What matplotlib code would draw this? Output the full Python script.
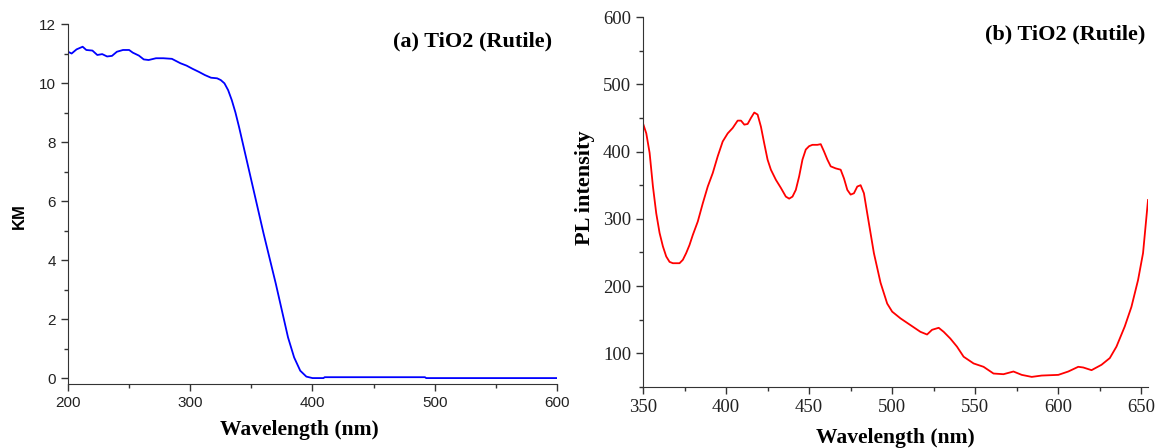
import numpy as np
import matplotlib
matplotlib.use("Agg")
import matplotlib.pyplot as plt
from matplotlib.ticker import MultipleLocator

# (a) Kubelka-Munk spectrum, TiO2 rutile
km_wl = [200, 203, 207, 212, 215, 220, 224, 228, 232, 236, 240, 245, 250, 253,
         258, 262, 266, 272, 278, 285, 292, 297, 302, 307, 312, 317, 322, 325,
         328, 331, 334, 337, 340, 345, 350, 355, 360, 365, 370, 375, 380, 385,
         390, 395, 400, 409, 410, 450, 492, 493, 550, 600]
km_val = [11.06, 11.0, 11.14, 11.23, 11.12, 11.1, 10.95, 10.98, 10.9, 10.92,
          11.06, 11.12, 11.12, 11.03, 10.93, 10.8, 10.78, 10.84, 10.84, 10.82,
          10.67, 10.59, 10.48, 10.38, 10.27, 10.18, 10.16, 10.1, 9.99, 9.76,
          9.42, 9.0, 8.5, 7.6, 6.7, 5.8, 4.9, 4.05, 3.2, 2.29, 1.38, 0.7,
          0.25, 0.05, 0.0, 0.0, 0.03, 0.03, 0.03, 0.0, 0.0, 0.0]

# (b) photoluminescence spectrum
pl_wl = [350, 352, 354, 356, 358, 360, 362, 364, 366, 368, 370, 372, 374, 376,
         378, 380, 383, 386, 389, 392, 395, 398, 401, 404, 407, 409, 411, 413,
         415, 417, 419, 421, 423, 425, 427, 430, 433, 436, 438, 440, 442, 444,
         446, 448, 450, 452, 455, 457, 459, 461, 463, 466, 469, 471, 473, 475,
         477, 479, 481, 483, 485, 489, 493, 497, 500, 505, 511, 517, 521, 524,
         528, 531, 535, 539, 543, 549, 555, 561, 567, 573, 578, 584, 590, 600,
         606, 612, 615, 620, 626, 631, 635, 640, 644, 648, 651, 654]
pl_val = [442, 427, 398, 348, 308, 279, 259, 244, 236, 234, 234, 234, 239, 249,
          261, 276, 296, 323, 348, 368, 393, 415, 427, 435, 446, 446, 440, 441,
          450, 458, 455, 437, 412, 388, 373, 358, 346, 333, 330, 333, 343, 363,
          388, 403, 408, 410, 410, 411, 400, 388, 378, 375, 373, 360, 343, 336,
          338, 348, 350, 338, 308, 249, 205, 174, 162, 152, 142, 132, 128, 135,
          138, 132, 122, 110, 95, 85, 80, 70, 69, 73, 68, 65, 67, 68,
          73, 80, 79, 75, 83, 93, 110, 140, 169, 209, 249, 328]

serif = "Liberation Serif"
sans = "Liberation Sans"

fig = plt.figure(figsize=(11.56, 4.48), dpi=100)

# ---- panel (a)
ax1 = fig.add_axes([0.0588, 0.1429, 0.4230, 0.8035])
ax1.plot(km_wl, km_val, color="#0000ff", lw=1.3)
ax1.set_xlim(200, 600)
ax1.set_ylim(-0.2, 12)
ax1.xaxis.set_major_locator(MultipleLocator(100))
ax1.xaxis.set_minor_locator(MultipleLocator(50))
ax1.yaxis.set_major_locator(MultipleLocator(2))
ax1.yaxis.set_minor_locator(MultipleLocator(1))
for lab in ax1.get_xticklabels() + ax1.get_yticklabels():
    lab.set_fontfamily(sans)
    lab.set_fontsize(11)
    lab.set_color("#222222")
ax1.set_xlabel("Wavelength (nm)", family=serif, fontweight="bold", fontsize=15.5)
ax1.xaxis.set_label_coords(0.474, -0.101)
ax1.set_ylabel("KM", family=sans, fontweight="bold", fontsize=12)
ax1.yaxis.set_label_coords(-0.084, 0.467)
ax1.text(0.99, 0.98, "(a) TiO2 (Rutile)", transform=ax1.transAxes, ha="right", va="top",
         family=serif, fontweight="bold", fontsize=16)

# ---- panel (b)
ax2 = fig.add_axes([0.5562, 0.1362, 0.4369, 0.8258])
ax2.plot(pl_wl, pl_val, color="#ff0000", lw=1.3)
ax2.set_xlim(350, 654)
ax2.set_ylim(50, 600)
ax2.xaxis.set_major_locator(MultipleLocator(50))
ax2.xaxis.set_minor_locator(MultipleLocator(25))
ax2.yaxis.set_major_locator(MultipleLocator(100))
ax2.yaxis.set_minor_locator(MultipleLocator(50))
for lab in ax2.get_xticklabels() + ax2.get_yticklabels():
    lab.set_fontfamily(serif)
    lab.set_fontsize(13.5)
    lab.set_color("#222222")
ax2.set_xlabel("Wavelength (nm)", family=serif, fontweight="bold", fontsize=15.5)
ax2.xaxis.set_label_coords(0.5, -0.11)
ax2.set_ylabel("PL intensity", family=serif, fontweight="bold", fontsize=16)
ax2.yaxis.set_label_coords(-0.094, 0.54)
ax2.text(0.995, 0.98, "(b) TiO2 (Rutile)", transform=ax2.transAxes, ha="right", va="top",
         family=serif, fontweight="bold", fontsize=16)

for ax in (ax1, ax2):
    ax.spines["top"].set_visible(False)
    ax.spines["right"].set_visible(False)
    ax.spines["left"].set_color("#333333")
    ax.spines["bottom"].set_color("#333333")
    ax.tick_params(which="major", direction="out", length=5, width=1, color="#333333")
    ax.tick_params(which="minor", direction="out", length=3, width=1, color="#333333")

fig.savefig("out.png", dpi=100)
